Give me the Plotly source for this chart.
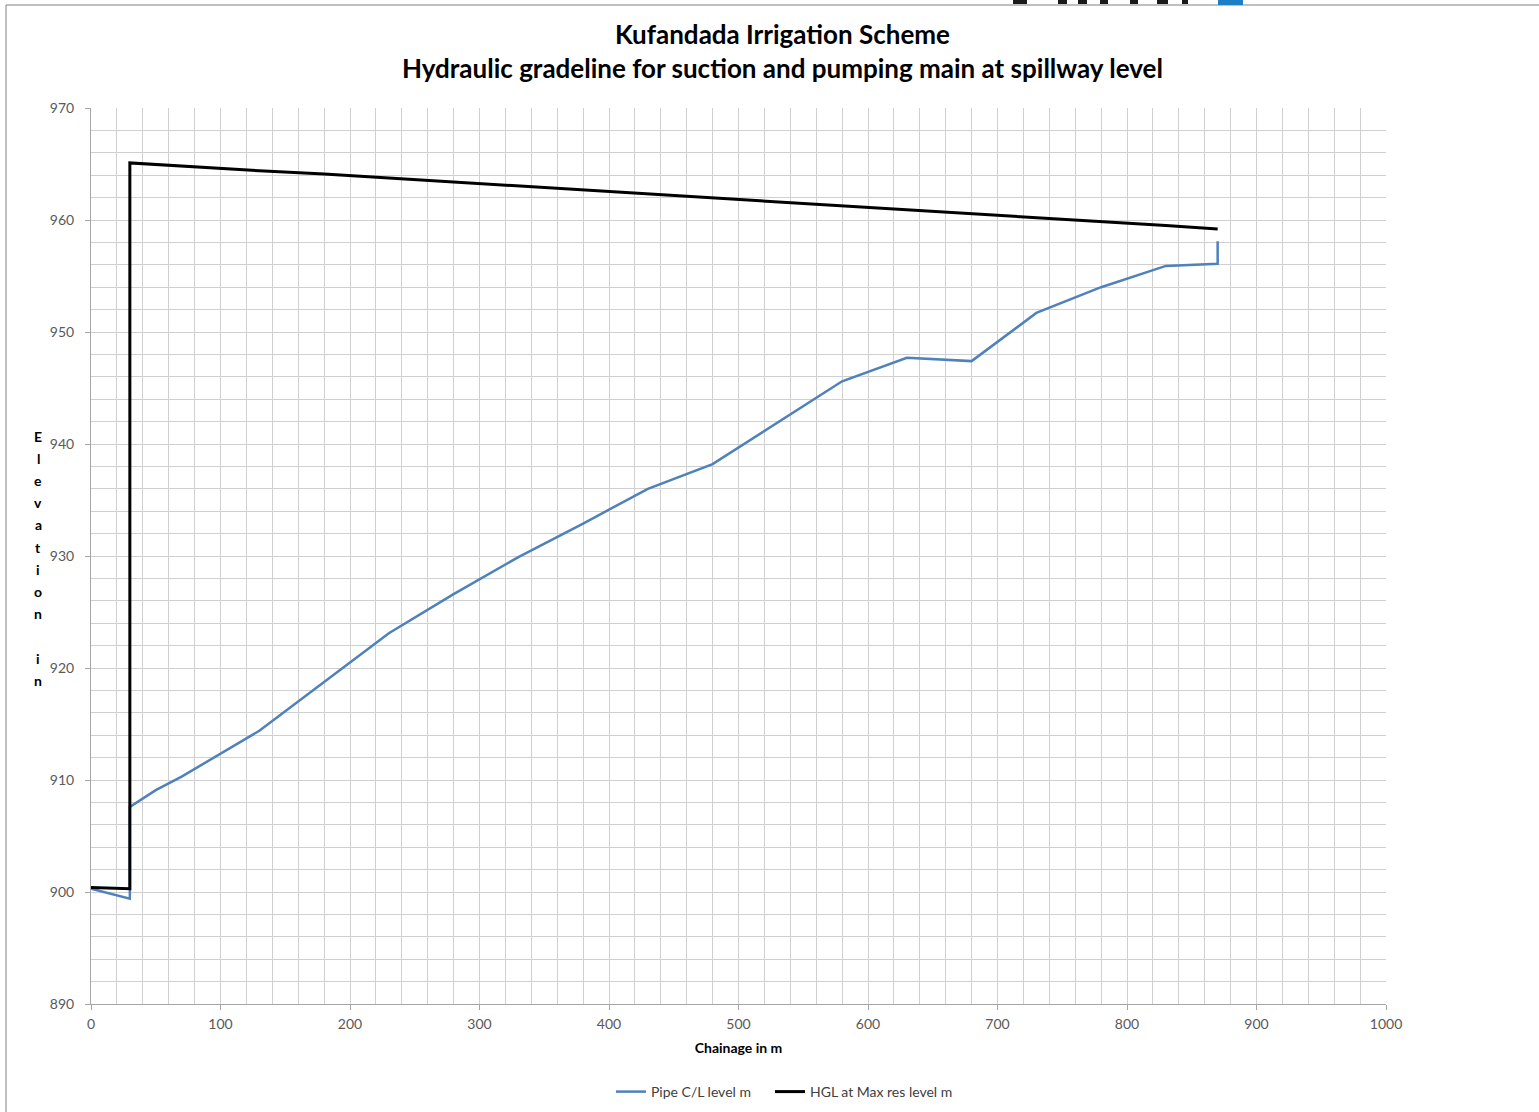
import plotly.graph_objects as go

# Chainage (m) and levels (m)
pipe_x = [0, 30, 30, 50, 70, 130, 230, 280, 330, 380, 430, 480, 580, 630, 680, 730, 780, 830, 870, 870]
pipe_y = [900.3, 899.4, 907.6, 909.1, 910.3, 914.4, 923.1, 926.6, 929.9, 932.9, 936.0, 938.2, 945.6, 947.7, 947.4, 951.7, 954.0, 955.9, 956.1, 958.1]

hgl_x = [0, 30, 30, 50, 70, 130, 180, 230, 280, 330, 380, 430, 480, 530, 580, 630, 680, 730, 780, 830, 870]
hgl_y = [900.4, 900.3, 965.1, 964.95, 964.85, 964.4, 964.1, 963.75, 963.4, 963.05, 962.65, 962.35, 962.0, 961.6, 961.25, 960.9, 960.55, 960.2, 959.85, 959.5, 959.2]

title_lines = ["Kufandada Irrigation Scheme", "Hydraulic gradeline for suction and pumping main at spillway level"]
x_title = "Chainage in m"
y_title = "Elevation in"

FONT = "Lato"
W, H = 1539, 1112
L, R, T, B = 91, 1386, 108, 1004

fig = go.Figure()
fig.add_trace(go.Scatter(x=pipe_x, y=pipe_y, mode="lines", name="Pipe C/L level m",
                         line=dict(color="#4F81BD", width=2.5), legend="legend"))
fig.add_trace(go.Scatter(x=hgl_x, y=hgl_y, mode="lines", name="HGL at Max res level m",
                         line=dict(color="#000000", width=3), legend="legend2"))

def px(xp):
    return (xp - L) / (R - L)

def py(yp):
    return (B - yp) / (B - T)

leg_common = dict(orientation="h", xref="container", yref="container", y=1 - 1092 / H,
                  xanchor="left", yanchor="middle", itemwidth=30,
                  font=dict(family=FONT, size=14, color="#404040"), bgcolor="rgba(0,0,0,0)")

grid = "#d0d0d0"
fig.update_layout(
    width=W, height=H,
    margin=dict(l=L, r=W - R, t=T, b=H - B, autoexpand=False),
    paper_bgcolor="white", plot_bgcolor="white",
    font=dict(family=FONT, size=14, color="#595959"),
    showlegend=True,
    legend=dict(x=611 / W, **leg_common),
    legend2=dict(x=770 / W, **leg_common),
    xaxis=dict(range=[0, 1000], dtick=100, tick0=0, showgrid=True, gridcolor=grid, gridwidth=1,
               minor=dict(dtick=20, showgrid=True, gridcolor=grid, gridwidth=1),
               showline=True, linecolor="#a6a6a6", linewidth=1, ticks="outside", ticklen=5,
               tickcolor="#a6a6a6", zeroline=False, tickfont=dict(size=14, color="#595959"),
               ticklabelstandoff=2, automargin=False,
               title=dict(text="<b>" + x_title + "</b>", font=dict(size=14, color="#000000"), standoff=12)),
    yaxis=dict(range=[890, 970], dtick=10, tick0=890, showgrid=True, gridcolor=grid, gridwidth=1,
               minor=dict(dtick=2, showgrid=True, gridcolor=grid, gridwidth=1),
               showline=True, linecolor="#a6a6a6", linewidth=1, ticks="outside", ticklen=5,
               tickcolor="#a6a6a6", zeroline=False, tickfont=dict(size=14, color="#595959"),
               ticklabelstandoff=8, automargin=False),
)

# Title
fig.add_annotation(text="<b>" + title_lines[0] + "</b><br><b>" + title_lines[1] + "</b>",
                   xref="paper", yref="paper", x=px(782), y=py(51), xanchor="center", yanchor="middle",
                   showarrow=False, font=dict(family=FONT, size=26, color="#000000"))

# Stacked vertical y-axis title, one letter per line
for i, ch in enumerate(y_title):
    if ch == " ":
        continue
    fig.add_annotation(text="<b>" + ch + "</b>", xref="paper", yref="paper",
                       x=px(38), y=py(436 + 22.2 * i), xanchor="center", yanchor="middle",
                       showarrow=False, font=dict(family=FONT, size=14, color="#000000"))

# outer chart border (partially visible)
fig.add_shape(type="line", xref="paper", yref="paper", x0=px(6), x1=px(1539), y0=py(5), y1=py(5),
              line=dict(color="#808080", width=1))
fig.add_shape(type="line", xref="paper", yref="paper", x0=px(6), x1=px(6), y0=py(5), y1=py(1112),
              line=dict(color="#808080", width=1))
# cropped logo fragment at the top
fig.add_shape(type="rect", xref="paper", yref="paper", x0=px(1218), x1=px(1243), y0=py(0), y1=py(5),
              line=dict(width=0), fillcolor="#1F7FC4")
for a, b in [(1013, 1027), (1058, 1067), (1078, 1087), (1100, 1108), (1130, 1138), (1157, 1168), (1182, 1188)]:
    fig.add_shape(type="rect", xref="paper", yref="paper", x0=px(a), x1=px(b), y0=py(0), y1=py(4),
                  line=dict(width=0), fillcolor="#1a1a1a")

fig.write_html("out.html", config={"displayModeBar": False},
               post_script="document.body.style.margin='0px';")
